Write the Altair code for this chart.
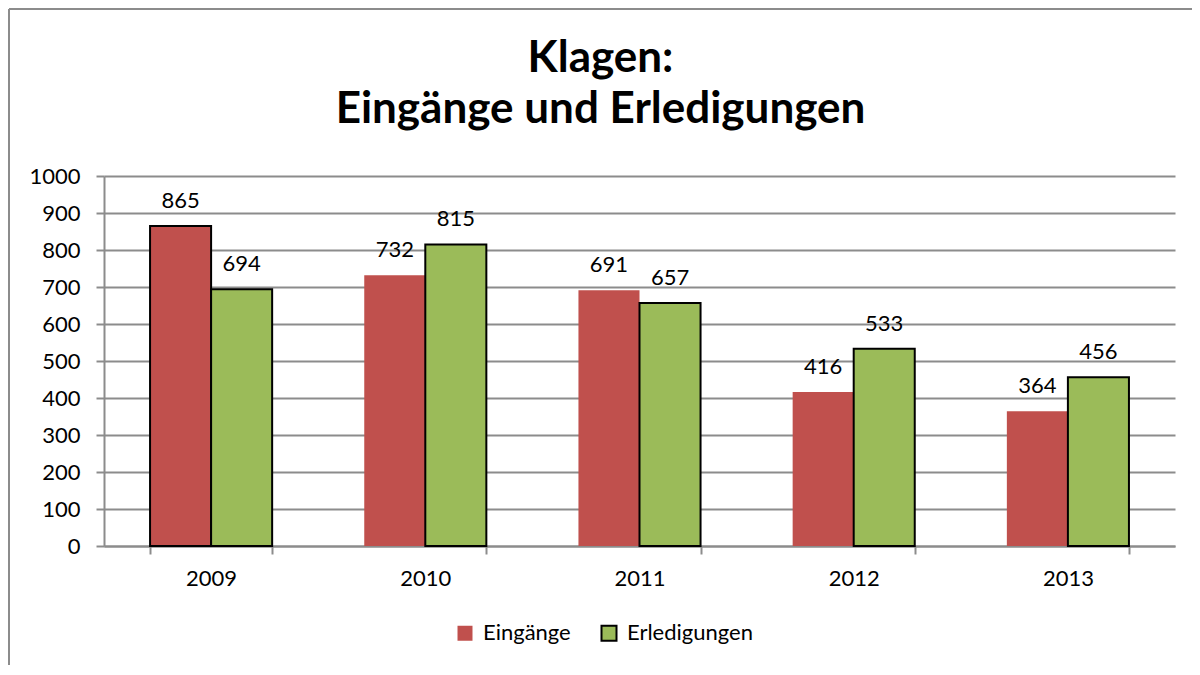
import altair as alt
import pandas as pd

years = ["2009", "2010", "2011", "2012", "2013"]
series = ["Eingänge", "Erledigungen"]
eingaenge = [865, 732, 691, 416, 364]
erledigungen = [694, 815, 657, 533, 456]
colors = ["#C0504D", "#9BBB59"]
y_ticks = [0, 100, 200, 300, 400, 500, 600, 700, 800, 900, 1000]
title_lines = ["Klagen:", "Eingänge und Erledigungen"]

rows = []
for i, yr in enumerate(years):
    rows.append({"Jahr": yr, "Reihe": series[0], "Wert": eingaenge[i]})
    rows.append({"Jahr": yr, "Reihe": series[1], "Wert": erledigungen[i]})
df = pd.DataFrame(rows)

W, H = 1071, 370
FONT = "Lato"
GRAY = "#8c8c8c"

x_enc = alt.X("Jahr:N", sort=years, title=None,
              scale=alt.Scale(paddingInner=0.43, paddingOuter=0.215),
              axis=alt.Axis(tickBand="extent", labelAngle=0, labelFontSize=22, labelFont=FONT,
                            labelColor="black", labelPadding=14, tickSize=8, tickColor=GRAY,
                            tickWidth=2, domainColor=GRAY, domainWidth=2, grid=False))
y_enc = alt.Y("Wert:Q", title=None,
              scale=alt.Scale(domain=[0, 1000], nice=False),
              axis=alt.Axis(values=y_ticks, format="d", labelOverlap=False, labelFontSize=22,
                            labelFont=FONT, labelColor="black",
                            labelPadding=16, tickSize=8, tickColor=GRAY, tickWidth=2,
                            domainColor=GRAY, domainWidth=2, gridColor=GRAY, gridWidth=2))
color_enc = alt.Color("Reihe:N", sort=series,
                      scale=alt.Scale(domain=series, range=colors),
                      legend=alt.Legend(title=None, orient="none", direction="horizontal",
                                        legendX=350, legendY=446, symbolType="square",
                                        symbolSize=225, symbolOpacity=1, labelFontSize=22,
                                        labelFont=FONT, labelColor="black", labelOffset=7,
                                        columnPadding=26, padding=0,
                                        symbolStrokeWidth=2,
                                        symbolStrokeColor=alt.ExprRef(
                                            "datum.label === 'Erledigungen' ? '#000000' : 'transparent'")))

base = alt.Chart(df)
x_off = alt.XOffset("Reihe:N", sort=series)

bars = base.mark_bar(strokeWidth=2, opacity=1).encode(
    x=x_enc,
    xOffset=x_off,
    y=y_enc,
    color=color_enc,
    stroke=alt.when("datum.Reihe == 'Erledigungen' || datum.Jahr == '2009'")
        .then(alt.value("#000000")).otherwise(alt.value("transparent")),
)

labels = base.mark_text(fontSize=22, font=FONT, color="black", baseline="alphabetic", dy=-18).encode(
    x=x_enc,
    xOffset=x_off,
    y=y_enc,
    text=alt.Text("Wert:Q"),
)

title = alt.Chart(pd.DataFrame({"t": [title_lines]})).mark_text(
    fontSize=44, font=FONT, fontWeight="bold", color="black", baseline="alphabetic",
    align="center", lineHeight=51, clip=False
).encode(text="t:N", x=alt.value(W / 2 - 39), y=alt.value(-104))

frame_left = alt.Chart(pd.DataFrame({"a": [0]})).mark_rule(color=GRAY, strokeWidth=2, clip=False).encode(
    x=alt.value(-95), y=alt.value(-167), y2=alt.value(H + 160))
frame_top = alt.Chart(pd.DataFrame({"a": [0]})).mark_rule(color=GRAY, strokeWidth=2, clip=False).encode(
    x=alt.value(-95), x2=alt.value(W + 20), y=alt.value(-167))

chart = alt.layer(frame_left, frame_top, bars, labels, title).properties(
    width=W, height=H,
    autosize=alt.AutoSizeParams(type="none"),
    padding={"left": 96, "top": 168, "right": 17, "bottom": 119},
).configure_view(stroke=None).configure_scale(offsetBandPaddingInner=0, offsetBandPaddingOuter=0)

chart.save("out.html", embed_options={"renderer": "svg", "actions": False})
